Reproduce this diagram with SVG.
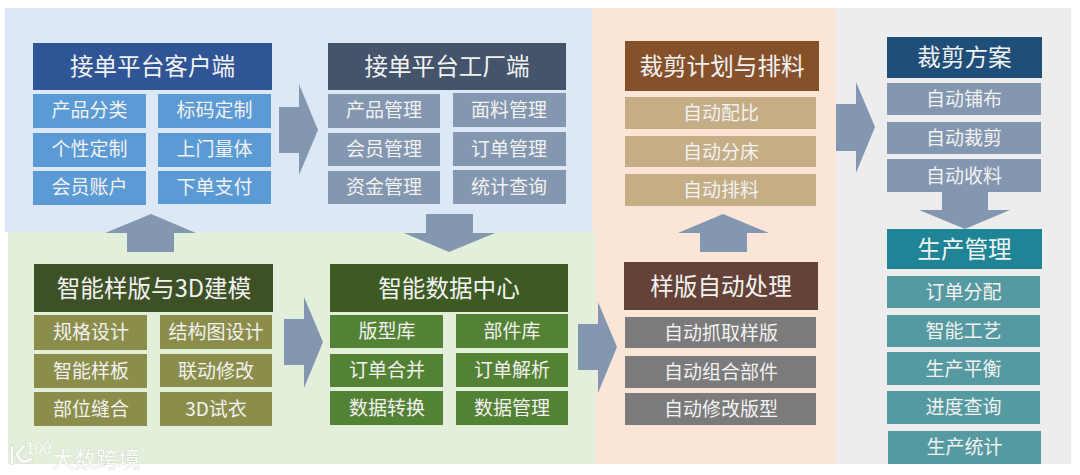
<svg xmlns="http://www.w3.org/2000/svg" width="1080" height="475" viewBox="0 0 1080 475">
<style>
text{font-family:"Noto Sans CJK SC","Noto Sans",sans-serif;fill:#f2f2f2;text-anchor:middle;dominant-baseline:central;transform:translateY(-1.5px)}
.h text{font-size:23.600px}
.i text{font-size:19px}
.arrow{fill:#8497b0}
.wm .name{fill:#fbfcfa;stroke:#c3c8bd;stroke-width:.5px;paint-order:stroke;font-size:22px}
.wm .num{fill:#fbfcfa;stroke:#c3c8bd;stroke-width:.4px;paint-order:stroke;font-size:17px;letter-spacing:-1px}
.logo{fill:none;stroke:#fbfcfa;stroke-width:3;stroke-linecap:round}
.logo2{fill:none;stroke:#c3c8bd;stroke-width:3.800;stroke-linecap:round}
</style>
<rect width="1080" height="475" fill="#fff"/>
<g id="panels">
<rect x="5" y="8" width="587" height="224" fill="#dce8f5"/>
<rect x="592" y="8" width="244" height="456" fill="#fbe5d6"/>
<rect x="8" y="232" width="588" height="232" fill="#e2efda"/>
<rect x="836" y="8" width="235" height="456" fill="#ededed"/>
</g>
<g id="connectors" class="arrow">
<polygon points="279,107 299,107 299,84 318,130 299,175 299,153 279,153"/>
<polygon points="127,252 127,233 105,233 151,214 196,233 174,233 174,252"/>
<polygon points="426,214 473,214 473,233 495,233 449,252 404,233 426,233"/>
<polygon points="284,319 304,319 304,297 323,342 304,388 304,365 284,365"/>
<polygon points="578,324 598,324 598,302 617,347 598,393 598,370 578,370"/>
<polygon points="700,252 700,233 678,233 723,214 769,233 747,233 747,252"/>
<polygon points="836,104 856,104 856,82 875,127 856,173 856,151 836,151"/>
<polygon points="942,192 988,192 988,210 1010,210 965,229 919,210 942,210"/>
</g>
<g id="client">
<g class="h"><rect x="33" y="43" width="239" height="47" fill="#2f5597"/><text x="152.500" y="66.500">接单平台客户端</text></g>
<g class="i" fill="#5b9bd5">
<rect x="33" y="94" width="113" height="34"/><text x="89.500" y="110">产品分类</text>
<rect x="158" y="94" width="113" height="34"/><text x="214.500" y="110">标码定制</text>
<rect x="33" y="133" width="113" height="34"/><text x="89.500" y="149">个性定制</text>
<rect x="158" y="133" width="113" height="34"/><text x="214.500" y="149">上门量体</text>
<rect x="33" y="171" width="113" height="34"/><text x="89.500" y="187">会员账户</text>
<rect x="158" y="171" width="113" height="33"/><text x="214.500" y="187">下单支付</text>
</g></g>
<g id="factory">
<g class="h"><rect x="328" y="43" width="238" height="47" fill="#44546a"/><text x="447" y="66.500">接单平台工厂端</text></g>
<g class="i" fill="#8497b0">
<rect x="328" y="94" width="112" height="34"/><text x="384" y="110">产品管理</text>
<rect x="453" y="93" width="113" height="34"/><text x="509" y="110">面料管理</text>
<rect x="328" y="133" width="112" height="33"/><text x="384" y="149">会员管理</text>
<rect x="453" y="132" width="113" height="34"/><text x="509" y="149">订单管理</text>
<rect x="328" y="171" width="112" height="33"/><text x="384" y="187">资金管理</text>
<rect x="453" y="170" width="113" height="34"/><text x="509" y="187">统计查询</text>
</g></g>
<g id="template">
<g class="h"><rect x="34" y="264" width="239" height="48" fill="#3d5026"/><text x="154" y="288">智能样版与3D建模</text></g>
<g class="i" fill="#8b8e4a">
<rect x="34" y="315" width="113" height="35"/><text x="91" y="332">规格设计</text>
<rect x="160" y="315" width="112" height="34"/><text x="216" y="332">结构图设计</text>
<rect x="34" y="354" width="113" height="34"/><text x="91" y="371">智能样板</text>
<rect x="160" y="354" width="112" height="33"/><text x="216" y="371">联动修改</text>
<rect x="34" y="392" width="113" height="34"/><text x="91" y="409">部位缝合</text>
<rect x="160" y="392" width="112" height="34"/><text x="216" y="409">3D试衣</text>
</g></g>
<g id="datacenter">
<g class="h"><rect x="330" y="264" width="238" height="48" fill="#3c5a22"/><text x="449" y="288">智能数据中心</text></g>
<g class="i" fill="#548235">
<rect x="330" y="315" width="113" height="33"/><text x="387" y="331">版型库</text>
<rect x="456" y="314" width="112" height="34"/><text x="512" y="331">部件库</text>
<rect x="330" y="354" width="113" height="33"/><text x="387" y="370">订单合并</text>
<rect x="456" y="353" width="112" height="34"/><text x="512" y="370">订单解析</text>
<rect x="330" y="391" width="113" height="34"/><text x="387" y="408">数据转换</text>
<rect x="456" y="391" width="112" height="34"/><text x="512" y="408">数据管理</text>
</g></g>
<g id="cutplan">
<g class="h"><rect x="625" y="41" width="194" height="50" fill="#85502a"/><text x="722" y="66">裁剪计划与排料</text></g>
<g class="i" fill="#c5ad85">
<rect x="625" y="97" width="191" height="32"/><text x="721" y="113">自动配比</text>
<rect x="625" y="136" width="191" height="31"/><text x="721" y="152">自动分床</text>
<rect x="625" y="174" width="191" height="32"/><text x="721" y="190">自动排料</text>
</g></g>
<g id="pattern">
<g class="h"><rect x="624" y="262" width="194" height="48" fill="#654238"/><text x="721" y="286">样版自动处理</text></g>
<g class="i" fill="#7b7b7b">
<rect x="625" y="317" width="191" height="31"/><text x="721" y="333">自动抓取样版</text>
<rect x="625" y="356" width="191" height="32"/><text x="721" y="372">自动组合部件</text>
<rect x="625" y="393" width="191" height="32"/><text x="721" y="409">自动修改版型</text>
</g></g>
<g id="cutting">
<g class="h"><rect x="887" y="37" width="155" height="41" fill="#1f4e79"/><text x="964.500" y="57.500">裁剪方案</text></g>
<g class="i" fill="#8497b0">
<rect x="887" y="83" width="154" height="32"/><text x="964" y="99">自动铺布</text>
<rect x="887" y="122" width="154" height="32"/><text x="964" y="138">自动裁剪</text>
<rect x="887" y="159" width="154" height="33"/><text x="964" y="176">自动收料</text>
</g></g>
<g id="production">
<g class="h"><rect x="887" y="229" width="155" height="40" fill="#1f8496"/><text x="964.500" y="249">生产管理</text></g>
<g class="i" fill="#559aa0">
<rect x="887" y="276" width="153" height="32"/><text x="963.500" y="292">订单分配</text>
<rect x="887" y="315" width="153" height="32"/><text x="963.500" y="331">智能工艺</text>
<rect x="887" y="352" width="153" height="33"/><text x="963.500" y="369">生产平衡</text>
<rect x="887" y="391" width="153" height="33"/><text x="963.500" y="407">进度查询</text>
<rect x="888" y="431" width="153" height="33"/><text x="964.500" y="447">生产统计</text>
</g></g>
<g id="watermark" class="wm">
<path class="logo2" d="M12 447V463M24 446L17 454C19 461 25 464 31 459"/>
<path class="logo" d="M12 447V463M24 446L17 454C19 461 25 464 31 459"/>
<text class="num" x="38" y="448">100</text>
<text class="name" x="96" y="458">大数跨境</text>
</g>
</svg>
